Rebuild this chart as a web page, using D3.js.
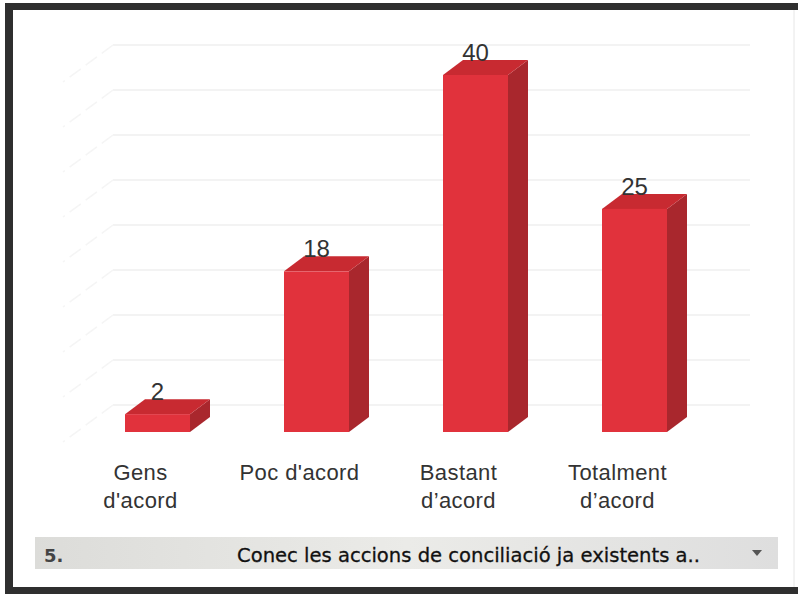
<!DOCTYPE html>
<html>
<head>
<meta charset="utf-8">
<script src="https://cdn.jsdelivr.net/npm/d3@7"></script>
<style>
  body { margin: 0; background: #fff; }
  svg { display: block; }
</style>
</head>
<body>
<svg id="chart" width="798" height="594"></svg>
<script>
const categories = ["Gens d'acord", "Poc d'acord", "Bastant d’acord", "Totalment d’acord"];
const categoryLines = [["Gens", "d'acord"], ["Poc d'acord"], ["Bastant", "d’acord"], ["Totalment", "d’acord"]];
const values = [2, 18, 40, 25];
const gridTicks = [0, 5, 10, 15, 20, 25, 30, 35, 40];
const footerNumber = "5.";
const footerText = "Conec les accions de conciliació ja existents a..";

const svg = d3.select("#chart");
const font = "'Liberation Sans', Arial, sans-serif";

// 3d depth of the bars
const dx = 20, dy = -15;
const barW = 65;

const x = d3.scalePoint().domain(categories).range([157.5, 634.5]);
const y = d3.scaleLinear().domain([0, 40]).range([432, 75]);
// back wall, further in depth
const yWall = d3.scaleLinear().domain([0, 40]).range([405, 45]);

// frame
svg.append("rect").attr("x", 0).attr("y", 0).attr("width", 798).attr("height", 594).attr("fill", "#fff");
svg.append("rect").attr("x", 5).attr("y", 3).attr("width", 793).attr("height", 7).attr("fill", "#2f2f2f");
svg.append("rect").attr("x", 5).attr("y", 3).attr("width", 8).attr("height", 591).attr("fill", "#2f2f2f");
svg.append("rect").attr("x", 5).attr("y", 587).attr("width", 793).attr("height", 7).attr("fill", "#2f2f2f");
svg.append("line").attr("x1", 794).attr("x2", 794).attr("y1", 10).attr("y2", 587)
  .attr("stroke", "#e6e6e6").attr("stroke-width", 1);

// grid on the back wall + side wall diagonals
const grid = svg.append("g");
grid.selectAll("line.h").data(gridTicks).join("line")
  .attr("class", "h")
  .attr("x1", 113).attr("x2", 750)
  .attr("y1", d => yWall(d)).attr("y2", d => yWall(d))
  .attr("stroke", "#efefef").attr("stroke-width", 1.5);
grid.selectAll("line.d").data(gridTicks).join("line")
  .attr("class", "d")
  .attr("x1", 113).attr("x2", 63)
  .attr("y1", d => yWall(d)).attr("y2", d => yWall(d) + 37)
  .attr("stroke", "#f5f5f5").attr("stroke-width", 1.5)
  .attr("stroke-dasharray", "14,6");

// bars
const bars = svg.append("g").selectAll("g").data(values).join("g");
const left = (d, i) => x(categories[i]) - barW / 2;

bars.append("path") // side
  .attr("fill", "#a9272d")
  .attr("d", (d, i) => {
    const x1 = left(d, i) + barW, y0 = y(0), y1 = y(d);
    return `M${x1},${y1}L${x1 + dx},${y1 + dy}L${x1 + dx},${y0 + dy}L${x1},${y0}Z`;
  });
bars.append("path") // top
  .attr("fill", "#c82a31")
  .attr("d", (d, i) => {
    const x0 = left(d, i), y1 = y(d);
    return `M${x0},${y1}L${x0 + dx},${y1 + dy}L${x0 + barW + dx},${y1 + dy}L${x0 + barW},${y1}Z`;
  });
bars.append("rect") // front
  .attr("x", left)
  .attr("y", d => y(d))
  .attr("width", barW)
  .attr("height", d => y(0) - y(d))
  .attr("fill", "#e1323c");

// value labels
svg.append("g").selectAll("text").data(values).join("text")
  .attr("x", (d, i) => x(categories[i]))
  .attr("y", d => y(d) + dy + 1)
  .attr("text-anchor", "middle")
  .attr("font-family", font)
  .attr("font-size", 24)
  .attr("fill", "#333")
  .text(d => d);

// category labels
const cat = svg.append("g").selectAll("text").data(categoryLines).join("text")
  .attr("text-anchor", "middle")
  .attr("font-family", font)
  .attr("font-size", 22)
  .attr("letter-spacing", 0.4)
  .attr("fill", "#333");
cat.selectAll("tspan").data((d, i) => d.map(t => ({ t, i }))).join("tspan")
  .attr("x", d => x(categories[d.i]) - 17)
  .attr("y", (d, j) => 480 + j * 28)
  .text(d => d.t);

// footer bar
const grad = svg.append("defs").append("linearGradient")
  .attr("id", "foot").attr("x1", 0).attr("x2", 1).attr("y1", 0).attr("y2", 0);
grad.append("stop").attr("offset", "0%").attr("stop-color", "#dcdcd9");
grad.append("stop").attr("offset", "50%").attr("stop-color", "#ebebe8");
grad.append("stop").attr("offset", "100%").attr("stop-color", "#dedede");
svg.append("rect").attr("x", 35).attr("y", 537).attr("width", 743).attr("height", 32)
  .attr("fill", "url(#foot)");
svg.append("text").attr("x", 44).attr("y", 562)
  .attr("font-family", "'DejaVu Sans', sans-serif").attr("font-size", 18).attr("font-weight", "bold")
  .attr("fill", "#444").text(footerNumber);
svg.append("text").attr("x", 237).attr("y", 562)
  .attr("font-family", "'DejaVu Sans', sans-serif").attr("font-size", 20)
  .attr("textLength", 463).attr("lengthAdjust", "spacingAndGlyphs")
  .attr("stroke", "#111").attr("stroke-width", 0.3)
  .attr("fill", "#111").text(footerText);
svg.append("path").attr("d", "M752,550L762,550L757,556Z").attr("fill", "#555");
</script>
</body>
</html>
